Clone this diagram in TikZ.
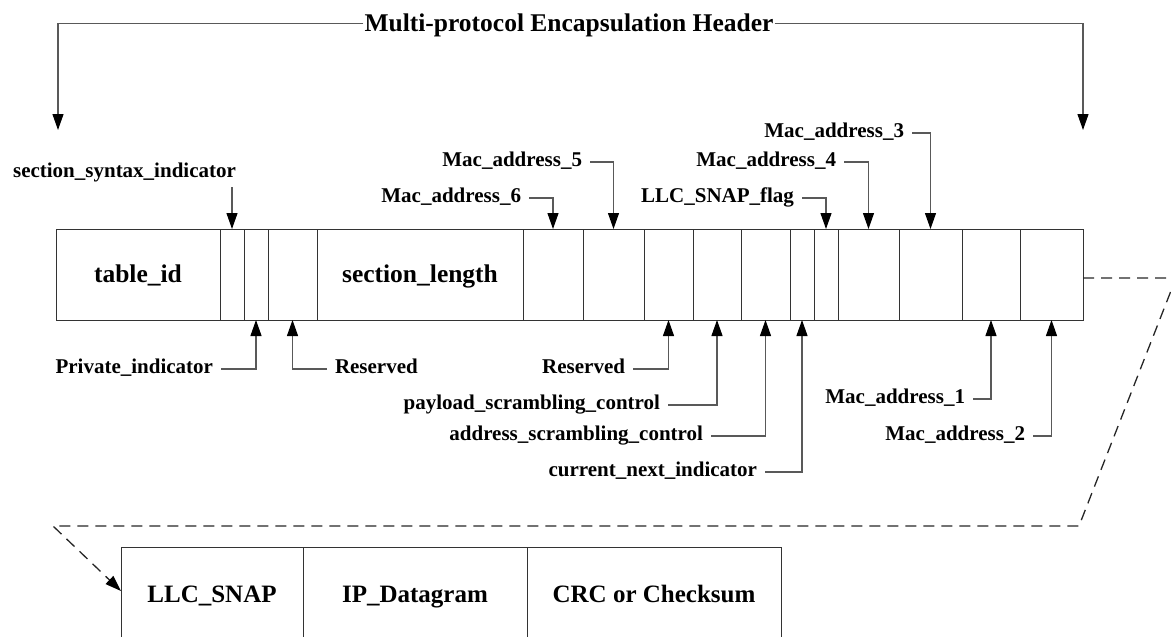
\documentclass[tikz,border=0pt]{standalone}
\usepackage{fontspec}
\setmainfont{Liberation Serif}
\usetikzlibrary{arrows.meta}
\begin{document}
\begin{tikzpicture}[
  x=1pt, y=-1pt,
  cell/.style={draw=black!80, line width=0.9pt, inner sep=0pt, outer sep=0pt, minimum height=91pt},
  lowcell/.style={draw=black!80, line width=0.9pt, inner sep=0pt, outer sep=0pt, minimum height=94pt,
    font=\fontsize{25}{28}\selectfont\bfseries, text height=16.6pt, text depth=0pt},
  bigtxt/.style={font=\fontsize{25.5}{28}\selectfont\bfseries, text height=16.6pt, text depth=0pt},
  callout/.style={font=\fontsize{21}{24}\selectfont\bfseries, inner sep=0pt, outer xsep=8pt,
    text height=9.6pt, text depth=0pt},
  lead/.style={draw=black!65, line width=1.1pt, -{Triangle[length=16pt,width=11pt,color=black]}},
  dashline/.style={draw=black!85, line width=1.3pt, dash pattern=on 11pt off 7pt,
    -{Triangle[length=16pt,width=11pt,color=black]}}
]
\clip (0,0) rectangle (1171,637);

% header fields
\node[cell, minimum width=164pt, bigtxt] (c1) at (138,274.5) {table\_id};
\node[cell, minimum width=24pt] (c2) at (232,274.5) {};
\node[cell, minimum width=24pt] (c3) at (256,274.5) {};
\node[cell, minimum width=49pt] (c4) at (292.5,274.5) {};
\node[cell, minimum width=206pt, bigtxt] (c5) at (420,274.5) {section\_length};
\node[cell, minimum width=60pt] (c6) at (553,274.5) {};
\node[cell, minimum width=61pt] (c7) at (613.5,274.5) {};
\node[cell, minimum width=49pt] (c8) at (668.5,274.5) {};
\node[cell, minimum width=48pt] (c9) at (717,274.5) {};
\node[cell, minimum width=49pt] (c10) at (765.5,274.5) {};
\node[cell, minimum width=24pt] (c11) at (802,274.5) {};
\node[cell, minimum width=24pt] (c12) at (826,274.5) {};
\node[cell, minimum width=61pt] (c13) at (868.5,274.5) {};
\node[cell, minimum width=63pt] (c14) at (930.5,274.5) {};
\node[cell, minimum width=58pt] (c15) at (991,274.5) {};
\node[cell, minimum width=63pt] (c16) at (1051.5,274.5) {};

% header span
\node[bigtxt, inner xsep=1pt, inner ysep=0pt] (hdr) at (569,23.5) {Multi-protocol Encapsulation Header};
\coordinate (hl) at (58,130);
\coordinate (hr) at (1083,130);
\draw[lead] (hdr.west) -| (hl);
\draw[lead] (hdr.east) -| (hr);

% labels above
\node[callout] (ssi) at (124.5,173) {section\_syntax\_indicator};
\coordinate (ssa) at (232,187);
\draw[lead] (ssa) -- (c2.north);

\node[callout, anchor=east] (m6) at (529,198) {Mac\_address\_6};
\node[callout, anchor=east] (m5) at (590,162) {Mac\_address\_5};
\node[callout, anchor=east] (lsf) at (802,198) {LLC\_SNAP\_flag};
\node[callout, anchor=east] (m4) at (844,162) {Mac\_address\_4};
\node[callout, anchor=east] (m3) at (912,133) {Mac\_address\_3};
\draw[lead] (m6.east) -| (c6.north);
\draw[lead] (m5.east) -| (c7.north);
\draw[lead] (lsf.east) -| (c12.north);
\draw[lead] (m4.east) -| (c13.north);
\draw[lead] (m3.east) -| (c14.north);

% labels below
\node[callout, anchor=east] (pi) at (221,369) {Private\_indicator};
\node[callout, anchor=west] (r1) at (327,369) {Reserved};
\node[callout, anchor=east] (r2) at (633,369) {Reserved};
\node[callout, anchor=east] (psc) at (668,405) {payload\_scrambling\_control};
\node[callout, anchor=east] (asc) at (711,436) {address\_scrambling\_control};
\node[callout, anchor=east] (cni) at (765,472) {current\_next\_indicator};
\node[callout, anchor=east] (m1) at (973,399) {Mac\_address\_1};
\node[callout, anchor=east] (m2) at (1033,436) {Mac\_address\_2};
\draw[lead] (pi.east) -| (c3.south);
\draw[lead] (r1.west) -| (c4.south);
\draw[lead] (r2.east) -| (c8.south);
\draw[lead] (psc.east) -| (c9.south);
\draw[lead] (asc.east) -| (c10.south);
\draw[lead] (cni.east) -| (c11.south);
\draw[lead] (m1.east) -| (c15.south);
\draw[lead] (m2.east) -| (c16.south);

% payload fields
\node[lowcell, minimum width=182pt] (b1) at (212,594) {LLC\_SNAP};
\node[lowcell, minimum width=224pt] (b2) at (415,594) {IP\_Datagram};
\node[lowcell, minimum width=254pt] (b3) at (654,594) {CRC or Checksum};

% continuation
\coordinate (k1) at (1176,278);
\coordinate (k2) at (1079,526);
\coordinate (k3) at (53,526);
\draw[dashline] ([yshift=-3.5pt]c16.east) -- (k1) -- (k2) -- (k3) -- ([yshift=3pt]b1.west);
\end{tikzpicture}
\end{document}
